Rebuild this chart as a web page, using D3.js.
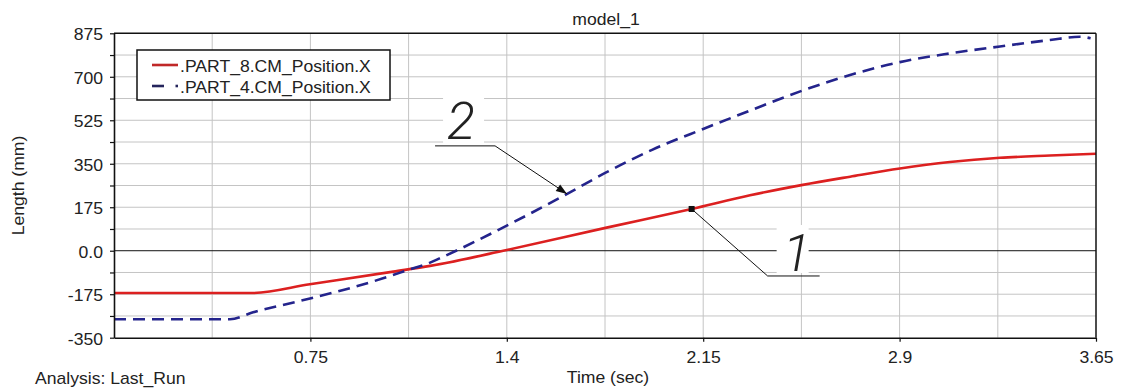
<!DOCTYPE html>
<html><head><meta charset="utf-8">
<script src="https://cdn.jsdelivr.net/npm/d3@7"></script>
<style>
body{margin:0;background:#fff}
svg{display:block}
text{font-family:"Liberation Sans",Arial,sans-serif;font-size:16px;fill:#222}
</style>
</head><body><svg id="c" width="1121" height="390"></svg>
<script>
// ---- data ----
const chartTitle = "model_1";
const xTitle = "Time (sec)";
const yTitle = "Length (mm)";
const footer = "Analysis:  Last_Run";
const seriesNames = [".PART_8.CM_Position.X", ".PART_4.CM_Position.X"];
const part8Time  = [0, 0.515, 0.728, 1.038, 1.175, 1.46, 1.831, 2.147, 2.364, 2.56, 2.736, 2.921, 3.107, 3.293, 3.479, 3.65];
const part8Value = [-170, -170, -135, -84, -61, 3, 93, 168, 223, 265, 298, 331, 357, 374, 383, 390];
const part4Time  = [0, 0.431, 0.517, 0.679, 0.852, 1.0, 1.10, 1.175, 1.21, 1.46, 1.676, 1.831, 2.0, 2.19, 2.364, 2.56, 2.736, 2.921, 3.107, 3.293, 3.479, 3.59, 3.63];
const part4Value = [-276, -276, -248, -205, -158, -111, -75, -48, -31, 101, 224, 316, 406, 490, 564, 645, 707, 759, 794, 822, 848, 861, 855];
const xTickValues = [0.73, 1.46, 2.19, 2.92, 3.65];
const xTickLabels = ["0.75", "1.4", "2.15", "2.9", "3.65"];
const yTickValues = [-350, -175, 0, 175, 350, 525, 700, 875];
const yTickLabels = ["-350", "-175", "0.0", "175", "350", "525", "700", "875"];
const calloutLabels = ["1", "2"];
const calloutSeries = [0, 1];
const calloutTimes = [2.147, 1.684];

// ---- setup ----
const svg = d3.select("#c");
const L = 114, R = 1096, T = 33.3, B = 337.7;
const x = d3.scaleLinear().domain([0, 3.65]).range([L, R]);
const y = d3.scaleLinear().domain([-350, 875]).range([B, T]);
const SX = 1.1;
function txt(g, px, py, s, anchor, extra) {
  const t = g.append("text").attr("transform", `translate(${px},${py}) scale(${SX},1)` + (extra || ""))
    .attr("text-anchor", anchor || "start").text(s);
  return t;
}
svg.append("rect").attr("width", 1121).attr("height", 390).attr("fill", "#fff");

// grid
const grid = svg.append("g").attr("stroke", "#c4c4c4").attr("stroke-width", 1);
d3.range(1, 10).map(i => i * 0.365).forEach(v => {
  grid.append("line").attr("x1", x(v)).attr("x2", x(v)).attr("y1", T).attr("y2", B);
});
d3.range(1, 14).map(i => -350 + i * 87.5).filter(v => v !== 0).forEach(v => {
  grid.append("line").attr("x1", L).attr("x2", R).attr("y1", y(v)).attr("y2", y(v));
});
svg.append("line").attr("x1", L).attr("x2", R).attr("y1", y(0)).attr("y2", y(0))
  .attr("stroke", "#111").attr("stroke-width", 1);

// series
const series = [
  part8Time.map((t, i) => [t, part8Value[i]]),
  part4Time.map((t, i) => [t, part4Value[i]])
];
function valueAt(data, t) {
  const i = d3.bisector(d => d[0]).left(data, t);
  if (i <= 0) return data[0][1];
  if (i >= data.length) return data[data.length - 1][1];
  const a = data[i - 1], b = data[i];
  return a[1] + (b[1] - a[1]) * (t - a[0]) / (b[0] - a[0]);
}
const pts = calloutTimes.map((t, i) => [x(t), y(valueAt(series[calloutSeries[i]], t))]);

// white boxes behind callout numbers
const p1 = pts[0], p2 = pts[1];
svg.append("rect").attr("x", p1[0] + 85).attr("y", p1[1] + 16).attr("width", 32).attr("height", 48).attr("fill", "#fff");
svg.append("rect").attr("x", p2[0] - 124).attr("y", p2[1] - 100).attr("width", 41).attr("height", 50).attr("fill", "#fff");

svg.append("clipPath").attr("id", "clip").append("rect").attr("x", L).attr("y", T).attr("width", R - L).attr("height", B - T);
const line = d3.line().x(d => x(d[0])).y(d => y(d[1])).curve(d3.curveMonotoneX);
const lg = svg.append("g").attr("clip-path", "url(#clip)");
lg.append("path").datum(series[0]).attr("d", line).attr("fill", "none")
  .attr("stroke", "#dc2020").attr("stroke-width", 2.6);
lg.append("path").datum(series[1]).attr("d", line).attr("fill", "none")
  .attr("stroke", "#24248c").attr("stroke-width", 2.6).attr("stroke-dasharray", "12,7");

// frame
svg.append("line").attr("x1", L).attr("x2", R).attr("y1", T).attr("y2", T).attr("stroke", "#111").attr("stroke-width", 1.5);
svg.append("line").attr("x1", R).attr("x2", R).attr("y1", T).attr("y2", B).attr("stroke", "#111").attr("stroke-width", 1.5);

// axes
const yAxis = d3.axisLeft(y)
  .tickValues(d3.range(0, 15).map(i => -350 + i * 87.5))
  .tickSize(4).tickSizeOuter(0)
  .tickFormat(v => { const k = yTickValues.indexOf(v); return k >= 0 ? yTickLabels[k] : ""; });
const ya = svg.append("g").attr("transform", `translate(${L},0)`).call(yAxis);
ya.selectAll("text").attr("x", -11 / SX).attr("dy", null).attr("y", 6.5)
  .attr("transform", `scale(${SX},1)`).style("font-size", "16px").attr("fill", "#222")
  .style("font-family", '"Liberation Sans",Arial,sans-serif');
const xAxis = d3.axisBottom(x).tickValues(xTickValues).tickSize(4).tickSizeOuter(0)
  .tickFormat((v, i) => xTickLabels[i]);
const xa = svg.append("g").attr("transform", `translate(0,${B})`).call(xAxis);
xa.selectAll("text").attr("dy", null).attr("y", 25)
  .attr("transform", `scale(${SX},1)`).style("font-size", "16px").attr("fill", "#222")
  .style("font-family", '"Liberation Sans",Arial,sans-serif');
[ya, xa].forEach(a => {
  a.select(".domain").attr("stroke", "#111").attr("stroke-width", 1.6);
  a.selectAll(".tick line").attr("stroke", "#111").attr("stroke-width", 1.2);
});

// titles
txt(svg, (L + R) / 2 + 1, 25, chartTitle, "middle");
txt(svg, (L + R) / 2 + 3, 383, xTitle, "middle");
txt(svg, 35, 384, footer, "start");
svg.append("text").attr("transform", `translate(24,${(T + B) / 2}) rotate(-90) scale(${SX},1)`)
  .attr("text-anchor", "middle").text(yTitle);

// legend
const leg = svg.append("g");
leg.append("rect").attr("x", 137).attr("y", 50).attr("width", 253).attr("height", 50)
  .attr("fill", "#fff").attr("stroke", "#111").attr("stroke-width", 1.5);
leg.append("line").attr("x1", 152).attr("x2", 178).attr("y1", 65).attr("y2", 65)
  .attr("stroke", "#c02828").attr("stroke-width", 2.6);
leg.append("line").attr("x1", 152).attr("x2", 164).attr("y1", 86).attr("y2", 86)
  .attr("stroke", "#24245c").attr("stroke-width", 2.6);
leg.append("line").attr("x1", 175.5).attr("x2", 178).attr("y1", 86).attr("y2", 86)
  .attr("stroke", "#24245c").attr("stroke-width", 2.6);
txt(leg, 180, 72, seriesNames[0], "start").attr("fill", "#b83030");
txt(leg, 180, 93, seriesNames[1], "start").attr("fill", "#30307e");

// callouts
const ann = svg.append("g");
ann.append("polyline").attr("points", `${p1[0]},${p1[1]} ${p1[0] + 76},${p1[1] + 67} ${p1[0] + 128},${p1[1] + 67}`)
  .attr("fill", "none").attr("stroke", "#111").attr("stroke-width", 1);
ann.append("rect").attr("x", p1[0] - 3).attr("y", p1[1] - 3).attr("width", 6).attr("height", 6).attr("fill", "#111");
ann.append("text").attr("x", p1[0] + 105).attr("y", p1[1] + 62).attr("text-anchor", "middle")
  .style("font-family", "Roboto, Lato, sans-serif").style("font-style", "italic").style("font-weight", 300)
  .style("font-size", "52px").attr("fill", "#111").text(calloutLabels[0]);
const a0 = [p2[0] - 72, p2[1] - 48];
ann.append("polyline").attr("points", `${p2[0] - 132},${a0[1]} ${a0[0]},${a0[1]} ${p2[0]},${p2[1]}`)
  .attr("fill", "none").attr("stroke", "#111").attr("stroke-width", 1);
const ang = Math.atan2(p2[1] - a0[1], p2[0] - a0[0]);
const hl = 11, hw = 4;
const bx = p2[0] - hl * Math.cos(ang), by = p2[1] - hl * Math.sin(ang);
ann.append("polygon").attr("points", [
  [p2[0], p2[1]],
  [bx - hw * Math.sin(ang), by + hw * Math.cos(ang)],
  [bx + hw * Math.sin(ang), by - hw * Math.cos(ang)]
].map(p => p.join(",")).join(" ")).attr("fill", "#111");
ann.append("text").attr("x", p2[0] - 106).attr("y", p2[1] - 55).attr("text-anchor", "middle")
  .style("font-family", "Roboto, Lato, sans-serif").style("font-style", "italic").style("font-weight", 300)
  .style("font-size", "52px").attr("fill", "#111").text(calloutLabels[1]);
</script>
</body></html>
